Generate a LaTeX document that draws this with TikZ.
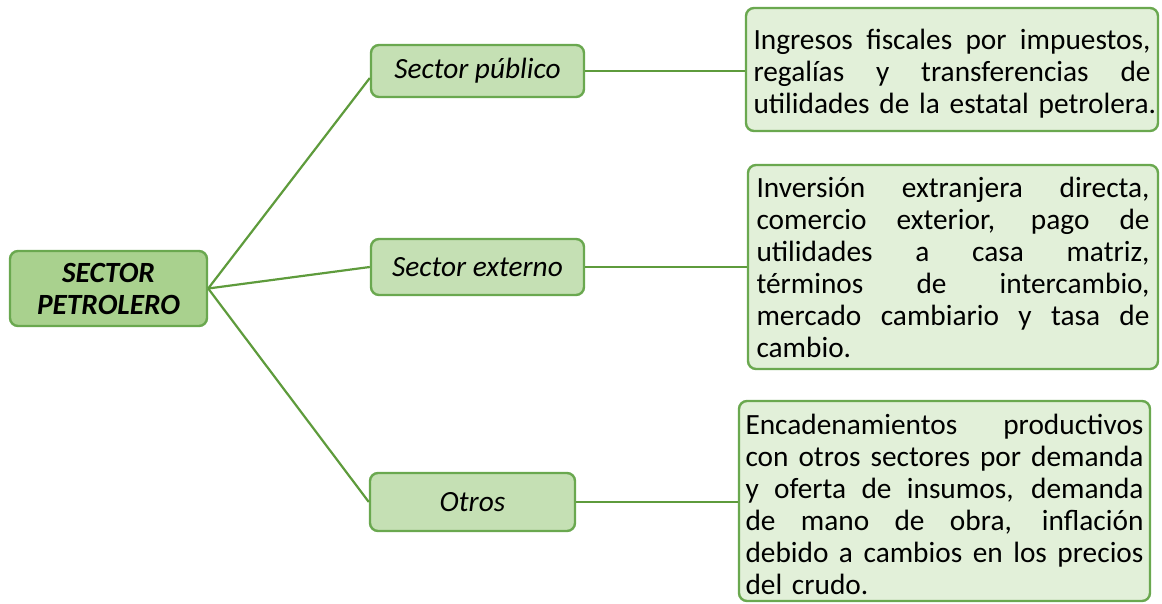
\documentclass[tikz,border=0pt]{standalone}
\usepackage{fontspec}
\setmainfont{Carlito}
\usepackage{tikz}
\usetikzlibrary{positioning}
\definecolor{borde}{HTML}{6AA84F}
\definecolor{linea}{HTML}{5E9B3C}
\definecolor{raiz}{HTML}{A9D18E}
\definecolor{medio}{HTML}{C5E0B4}
\definecolor{claro}{HTML}{E2F0D9}
\newcommand{\anchotexto}{398pt}
\newcommand{\jline}[1]{\hbox to \anchotexto{\spaceskip=0.226em plus 1fil\relax #1}}
\tikzset{
	caja/.style={draw=borde, line width=2.4pt, rounded corners=8pt, inner sep=0pt, align=center,
		font=\fontsize{29.33}{32}\selectfont},
	nivel/.style={caja, fill=medio, font=\fontsize{29.33}{32}\selectfont\itshape},
	detalle/.style={caja, fill=claro, align=left, text width=#1,
		execute at begin node={\renewcommand{\anchotexto}{#1}}},
	rama/.style={draw=linea, line width=2.2pt}
}

\begin{document}
\begin{tikzpicture}[x=1pt, y=-1pt]
			\useasboundingbox (0,0) rectangle (1162,604);
			\node[caja, fill=raiz, minimum width=197pt, minimum height=75pt,
				font=\fontsize{29.33}{32}\selectfont\bfseries\itshape] (sector) at (108.5,288.5) {SECTOR\\PETROLERO};
			\node[nivel, minimum width=213pt, minimum height=52pt] (publico) at (477.5,71) {Sector público};
			\node[nivel, minimum width=213pt, minimum height=56pt] (externo) at (477.5,267) {Sector externo};
			\node[nivel, minimum width=205pt, minimum height=58pt] (otros) at (472.5,502) {Otros};
			\node[detalle=397pt, minimum width=412pt, minimum height=123pt] (fiscal) at (952,69.5) {%
				\vbox{\kern8pt
				\jline{Ingresos fiscales por impuestos,}
				\jline{regalías y transferencias de}
				\hbox{utilidades de la estatal petrolera.}}};
			\node[detalle=393pt, minimum width=410pt, minimum height=204pt] (inversion) at (953,267) {%
				\jline{Inversión extranjera directa,}
				\jline{comercio exterior, pago de}
				\jline{utilidades a casa matriz,}
				\jline{términos de intercambio,}
				\jline{mercado cambiario y tasa de}
				\hbox{cambio.}};
			\node[detalle=398pt, minimum width=411pt, minimum height=200pt] (cadena) at (944.5,501) {%
				\vbox{\kern6pt
				\jline{Encadenamientos productivos}
				\jline{con otros sectores por demanda}
				\jline{y oferta de insumos, demanda}
				\jline{de mano de obra, inflación}
				\jline{debido a cambios en los precios}
				\hbox{del crudo.}}};
			\draw[rama] (sector.east) -- ([yshift=-7pt]publico.west);
			\draw[rama] (sector.east) -- (externo.west);
			\draw[rama] (sector.east) -- (otros.west);
			\draw[rama] (publico.east) -- (fiscal.west |- publico.east);
			\draw[rama] (externo.east) -- (inversion.west |- externo.east);
			\draw[rama] (otros.east) -- (cadena.west |- otros.east);
		\end{tikzpicture}
\end{document}
